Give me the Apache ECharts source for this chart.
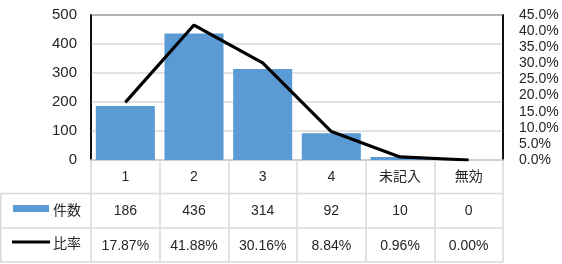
<!DOCTYPE html>
<html>
<head>
<meta charset="utf-8">
<script src="https://cdn.jsdelivr.net/npm/echarts@6/dist/echarts.min.js"></script>
<style>
  html, body { margin: 0; padding: 0; background: #fff; }
  #chart { width: 562px; height: 264px; }
</style>
</head>
<body>
<div id="chart"></div>
<script>
const categories = ['1', '2', '3', '4', '未記入', '無効']
const counts = [186, 436, 314, 92, 10, 0]
const ratios = [17.87, 41.88, 30.16, 8.84, 0.96, 0.00]
const countName = '件数'
const ratioName = '比率'

const FONT = '"Liberation Sans", "Noto Sans CJK JP", sans-serif'
const TEXT = '#262626'
const GRID_GREY = '#d9d9d9'
const BAR_BLUE = '#5b9bd5'

const chart = echarts.init(document.getElementById('chart'), null, { renderer: 'canvas' })

// 表の行（カテゴリ・件数・比率）は x 軸を3本重ねて描く
function tableAxis(data, margin, extra) {
  return Object.assign({
    type: 'category',
    data: data,
    position: 'bottom',
    boundaryGap: true,
    axisLine: { show: false },
    axisTick: { show: false },
    axisLabel: {
      color: TEXT,
      fontSize: 14,
      fontFamily: FONT,
      margin: margin,
      verticalAlign: 'middle',
      interval: 0
    }
  }, extra || {})
}

const option = {
  animation: false,
  grid: {
    left: 91,
    right: 59,
    top: 15,
    bottom: 104,
    show: true,
    borderColor: '#000',
    borderWidth: 1.5
  },
  xAxis: [
    tableAxis(categories, 17, {
      axisLine: { show: true, lineStyle: { color: GRID_GREY, width: 1.5 } },
      axisTick: { show: true, length: 102, lineStyle: { color: GRID_GREY, width: 1.5 } }
    }),
    tableAxis(counts.map(String), 51),
    tableAxis(ratios.map(v => v.toFixed(2) + '%'), 86)
  ],
  yAxis: [
    {
      type: 'value',
      min: 0,
      max: 500,
      interval: 100,
      axisLine: { show: true, lineStyle: { color: '#000', width: 1.5 } },
      axisTick: { show: false },
      axisLabel: { color: TEXT, fontSize: 15, fontFamily: FONT, margin: 14 },
      splitLine: { lineStyle: { color: GRID_GREY, width: 1.5 } }
    },
    {
      type: 'value',
      min: 0,
      max: 45,
      interval: 5,
      position: 'right',
      axisLine: { show: true, lineStyle: { color: '#000', width: 1.5 } },
      axisTick: { show: false },
      axisLabel: {
        color: TEXT,
        fontSize: 14,
        fontFamily: FONT,
        margin: 16,
        formatter: v => v.toFixed(1) + '%'
      },
      splitLine: { show: false }
    }
  ],
  series: [
    {
      name: countName,
      type: 'bar',
      xAxisIndex: 0,
      yAxisIndex: 0,
      data: counts,
      barCategoryGap: '14%',
      itemStyle: { color: BAR_BLUE }
    },
    {
      name: ratioName,
      type: 'line',
      xAxisIndex: 0,
      yAxisIndex: 1,
      data: ratios,
      symbol: 'none',
      lineStyle: { color: '#000', width: 3.2 },
      z: 5
    }
  ],
  graphic: [
    // 表の横線
    { type: 'line', shape: { x1: 0, y1: 193.5, x2: 503, y2: 193.5 }, style: { stroke: GRID_GREY, lineWidth: 1.5 } },
    { type: 'line', shape: { x1: 0, y1: 228, x2: 503, y2: 228 }, style: { stroke: GRID_GREY, lineWidth: 1.5 } },
    { type: 'line', shape: { x1: 0, y1: 262, x2: 503, y2: 262 }, style: { stroke: GRID_GREY, lineWidth: 1.5 } },
    { type: 'line', shape: { x1: 0.75, y1: 193.5, x2: 0.75, y2: 262 }, style: { stroke: GRID_GREY, lineWidth: 1.5 } },
    // 凡例キー
    { type: 'rect', shape: { x: 13, y: 205, width: 36, height: 7 }, style: { fill: BAR_BLUE } },
    { type: 'line', shape: { x1: 12, y1: 242, x2: 50, y2: 242 }, style: { stroke: '#000', lineWidth: 3 } },
    { type: 'text', x: 53, y: 211, style: { text: countName, fill: TEXT, font: '14px ' + FONT, verticalAlign: 'middle' } },
    { type: 'text', x: 53, y: 244, style: { text: ratioName, fill: TEXT, font: '14px ' + FONT, verticalAlign: 'middle' } }
  ]
}

chart.setOption(option)
</script>
</body>
</html>
